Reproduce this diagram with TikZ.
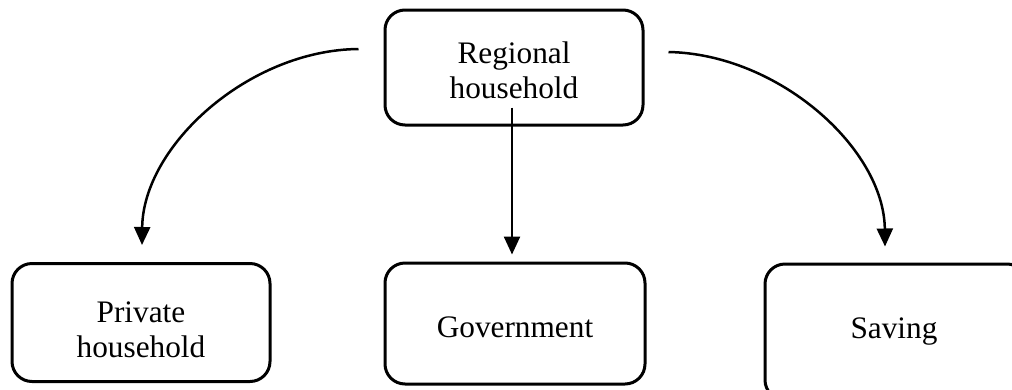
\documentclass[tikz,border=0pt]{standalone}
\usepackage{fontspec}
\setmainfont{Liberation Serif}
\usetikzlibrary{calc,arrows.meta}

\begin{document}
\begin{tikzpicture}[x=1pt,y=-1pt,
  box/.style={draw=black, line width=3pt, rounded corners=20pt, inner sep=0pt},
  caption/.style={align=center, inner sep=0pt,
    font=\fontsize{31.3}{35}\selectfont},
  flow/.style={draw=black, line width=2.5pt,
    -{Triangle[length=18pt,width=16pt]}}]

  % page frame
  \clip (0,0) rectangle (1012,389);
  \fill[white] (0,0) rectangle (1012,389);

  % boxes
  \node[box, minimum width=258pt, minimum height=115pt] (reg) at (514,67.5) {};
  \node[box, minimum width=258pt, minimum height=118pt] (priv) at (141,322.5) {};
  \node[box, minimum width=260pt, minimum height=121pt] (gov) at (515,323.5) {};
  \node[box, minimum width=262pt, minimum height=136pt] (sav) at (896,332) {};

  % box texts
  \node[caption] (regtxt) at ($(reg.center)+(0,3)$) {Regional\\household};
  \node[caption] (privtxt) at ($(priv.center)+(0,7)$) {Private\\household};
  \node[caption] (govtxt) at ($(gov.center)+(0,4)$) {Government};
  \node[caption] (savtxt) at ($(sav.center)+(-2,0)$) {Saving};

  % connector end points
  \coordinate (ls) at ($(reg.west)+(-25,-18.5)$);
  \coordinate (rs) at ($(reg.east)+(24,-15.5)$);
  \coordinate (gs) at ($(reg.south)+(-2,-19)$);
  \coordinate (lt) at ($(priv.north)+(1,-17)$);
  \coordinate (rt) at ($(sav.north)+(-11,-16)$);
  \coordinate (gt) at ($(gov.north)+(-3,-7)$);

  % flows
  \draw[flow] (ls) .. controls ($(ls)+(-110,1)$) and ($(lt)+(1,-99)$) .. (lt);
  \draw[flow] (rs) .. controls ($(rs)+(110,2)$) and ($(rt)+(-1,-98)$) .. (rt);
  \draw[flow] (gs) -- (gt);
\end{tikzpicture}
\end{document}
